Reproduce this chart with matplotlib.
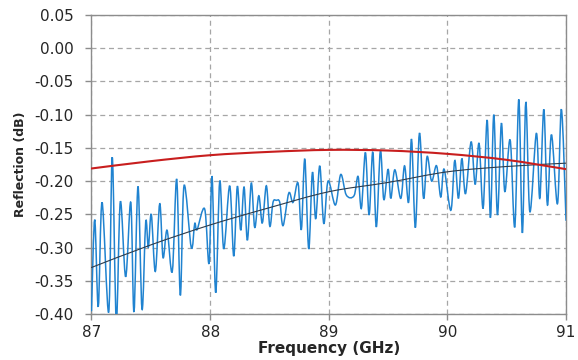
import numpy as np
import matplotlib.pyplot as plt
from matplotlib.path import Path
from matplotlib.patches import PathPatch

freq = [87.000, 87.027, 87.057, 87.089, 87.145, 87.175, 87.209, 87.243, 87.288, 87.331,
        87.358, 87.392, 87.426, 87.457, 87.479, 87.504, 87.538, 87.575, 87.603, 87.637,
        87.681, 87.718, 87.749, 87.780, 87.841, 87.870, 87.890, 87.954, 87.991, 88.016,
        88.047, 88.081, 88.115, 88.165, 88.199, 88.229, 88.258, 88.286, 88.314, 88.347,
        88.376, 88.410, 88.440, 88.474, 88.503, 88.530, 88.558, 88.587, 88.615, 88.663,
        88.699, 88.741, 88.769, 88.798, 88.831, 88.862, 88.890, 88.924, 88.958, 88.994,
        89.056, 89.101, 89.148, 89.213, 89.247, 89.275, 89.309, 89.340, 89.371, 89.401,
        89.435, 89.464, 89.500, 89.523, 89.557, 89.607, 89.639, 89.673, 89.698, 89.730,
        89.764, 89.799, 89.829, 89.867, 89.909, 89.944, 89.972, 90.029, 90.062, 90.093,
        90.122, 90.153, 90.200, 90.234, 90.267, 90.301, 90.335, 90.363, 90.391, 90.422,
        90.455, 90.484, 90.529, 90.568, 90.602, 90.632, 90.661, 90.695, 90.750, 90.779,
        90.813, 90.843, 90.877, 90.928, 90.961, 91.000]
refl = [-0.395, -0.258, -0.389, -0.232, -0.397, -0.164, -0.410, -0.231, -0.344, -0.232,
        -0.397, -0.208, -0.393, -0.261, -0.300, -0.250, -0.336, -0.234, -0.315, -0.274,
        -0.336, -0.197, -0.372, -0.207, -0.300, -0.264, -0.273, -0.242, -0.324, -0.193,
        -0.368, -0.200, -0.302, -0.207, -0.313, -0.208, -0.274, -0.209, -0.289, -0.203,
        -0.270, -0.222, -0.263, -0.207, -0.268, -0.232, -0.229, -0.232, -0.267, -0.218,
        -0.232, -0.203, -0.273, -0.167, -0.302, -0.187, -0.257, -0.177, -0.264, -0.200,
        -0.236, -0.190, -0.221, -0.222, -0.193, -0.241, -0.157, -0.251, -0.156, -0.269,
        -0.154, -0.228, -0.182, -0.226, -0.183, -0.226, -0.177, -0.232, -0.137, -0.270,
        -0.128, -0.226, -0.163, -0.200, -0.177, -0.224, -0.182, -0.244, -0.169, -0.226,
        -0.166, -0.219, -0.141, -0.205, -0.143, -0.241, -0.108, -0.255, -0.100, -0.251,
        -0.113, -0.216, -0.138, -0.269, -0.077, -0.278, -0.081, -0.246, -0.128, -0.226,
        -0.092, -0.236, -0.130, -0.234, -0.092, -0.259]

# smooth curves
curve_f = [87.0, 87.5, 88.0, 88.5, 89.0, 89.5, 90.0, 90.5, 91.0]
red_curve = [-0.181, -0.170, -0.161, -0.156, -0.153, -0.154, -0.159, -0.168, -0.182]
trend = [-0.330, -0.296, -0.266, -0.240, -0.216, -0.202, -0.186, -0.178, -0.173]

xticks = [87, 88, 89, 90, 91]
yticks = [-0.40, -0.35, -0.30, -0.25, -0.20, -0.15, -0.10, -0.05, 0.00, 0.05]
ytick_labels = ['-0.40', '-0.35', '-0.30', '-0.25', '-0.20', '-0.15', '-0.10', '-0.05', '0.00', '0.05']


def smooth_line(ax, x, y, **kw):
    # Excel-style smoothed line: cubic bezier through the points (catmull-rom tangents)
    p = np.column_stack([x, y])
    verts = [p[0]]
    codes = [Path.MOVETO]
    for i in range(len(p) - 1):
        p0 = p[i - 1] if i > 0 else p[i]
        p3 = p[i + 2] if i + 2 < len(p) else p[i + 1]
        c1 = p[i] + (p[i + 1] - p0) / 6
        c2 = p[i + 1] - (p3 - p[i]) / 6
        verts += [c1, c2, p[i + 1]]
        codes += [Path.CURVE4] * 3
    ax.add_patch(PathPatch(Path(verts, codes), fill=False, capstyle='round', **kw))


fig = plt.figure(figsize=(5.78, 3.6), dpi=100)
ax = fig.add_axes([0.1583, 0.1278, 0.8210, 0.8305])

smooth_line(ax, freq, refl, edgecolor='#2083d0', lw=1.1, zorder=3)
smooth_line(ax, curve_f, trend, edgecolor='#2e3b4a', lw=0.8, zorder=4)
smooth_line(ax, curve_f, red_curve, edgecolor='#c81e1e', lw=1.5, zorder=5)

ax.set_xlim(87, 91)
ax.set_ylim(-0.40, 0.05)
ax.set_xticks(xticks)
ax.set_yticks(yticks)
ax.set_yticklabels(ytick_labels)
ax.grid(True, color='#a6a6a6', linestyle=(0, (4, 3)), linewidth=0.9)
ax.set_axisbelow(True)

for s in ax.spines.values():
    s.set_color('#8c8c8c')
    s.set_linewidth(1.0)
ax.tick_params(colors='#8c8c8c', labelcolor='#262626', labelsize=11, length=4, width=1)
ax.tick_params(axis='x', pad=4)
ax.tick_params(axis='y', pad=9)

ax.set_xlabel('Frequency (GHz)', fontsize=11, fontweight='bold', color='#262626', labelpad=1)
ax.set_ylabel('Reflection (dB)', fontsize=9, fontweight='bold', color='#262626', labelpad=5)

fig.savefig('out.png', dpi=100)
